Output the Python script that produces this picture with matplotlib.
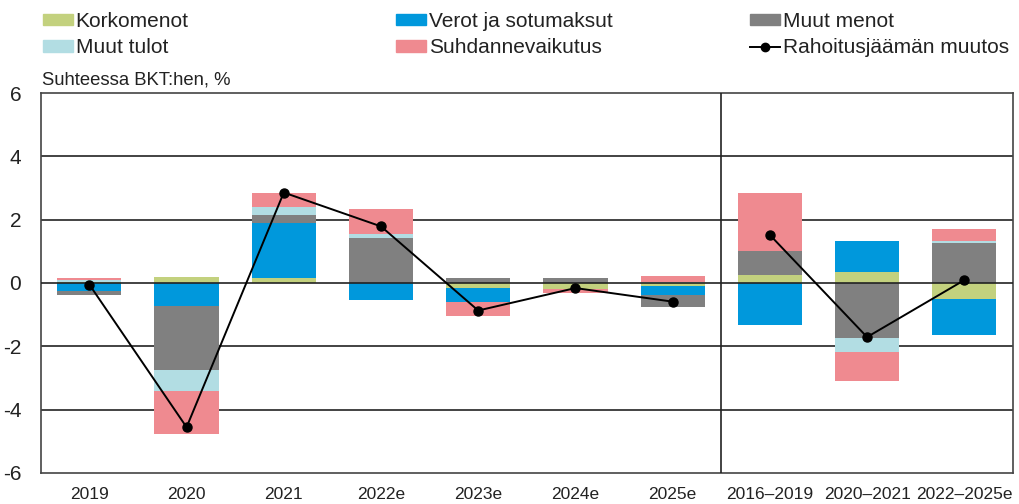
import numpy as np
import matplotlib
matplotlib.use("Agg")
import matplotlib.pyplot as plt
from matplotlib.patches import Patch
from matplotlib.lines import Line2D

plt.rcParams["font.family"] = ["Liberation Sans", "DejaVu Sans"]

categories = ["2019", "2020", "2021", "2022e", "2023e", "2024e", "2025e",
              "2016–2019", "2020–2021", "2022–2025e"]
korkomenot = [0.04, 0.18, 0.16, 0.0, -0.17, -0.19, -0.10, 0.25, 0.36, -0.51]
verot = [-0.24, -0.72, 1.73, -0.53, -0.42, 0.0, -0.27, -1.33, 0.98, -1.13]
muut_menot = [-0.14, -2.02, 0.27, 1.41, 0.17, 0.16, -0.40, 0.77, -1.75, 1.26]
muut_tulot = [0.05, -0.66, 0.23, 0.14, 0.0, 0.0, 0.02, 0.0, -0.42, 0.07]
suhdanne = [0.08, -1.38, 0.47, 0.79, -0.44, -0.14, 0.20, 1.82, -0.92, 0.37]
rahoitus = [-0.05, -4.56, 2.86, 1.79, -0.87, -0.16, -0.59, 1.52, -1.71, 0.09]

colors = {
    "Korkomenot": "#c3d17e",
    "Verot ja sotumaksut": "#0098dc",
    "Muut menot": "#808080",
    "Muut tulot": "#b2dde3",
    "Suhdannevaikutus": "#ef8a90",
}
series = [
    ("Korkomenot", korkomenot),
    ("Verot ja sotumaksut", verot),
    ("Muut menot", muut_menot),
    ("Muut tulot", muut_tulot),
    ("Suhdannevaikutus", suhdanne),
]

fig = plt.figure(figsize=(10.19, 5.04), dpi=100)
ax = fig.add_axes([0.040, 0.062, 0.954, 0.753])

x = np.arange(len(categories))
pos_bottom = np.zeros(len(categories))
neg_bottom = np.zeros(len(categories))
for name, vals in series:
    vals = np.array(vals)
    bottom = np.where(vals >= 0, pos_bottom, neg_bottom)
    ax.bar(x, vals, width=0.66, bottom=bottom, color=colors[name], zorder=2)
    pos_bottom += np.clip(vals, 0, None)
    neg_bottom += np.clip(vals, None, 0)

# line in two parts: yearly and period averages
ax.plot(x[:7], rahoitus[:7], color="black", lw=1.4, marker="o", ms=6.5, zorder=4)
ax.plot(x[7:], rahoitus[7:], color="black", lw=1.4, marker="o", ms=6.5, zorder=4)

for y in [-4, -2, 2, 4]:
    ax.axhline(y, color="#222222", lw=1.2, zorder=1)
ax.axhline(0, color="#222222", lw=1.2, zorder=3)
ax.axvline(6.5, color="#222222", lw=1.2, zorder=3)

ax.set_xlim(-0.5, len(categories) - 0.5)
ax.set_ylim(-6, 6)
ax.set_yticks([-6, -4, -2, 0, 2, 4, 6])
ax.set_yticklabels(["-6", "-4", "-2", "0", "2", "4", "6"])
ax.set_xticks(x)
ax.set_xticklabels(categories)
ax.tick_params(axis="y", length=0, pad=14, labelsize=15, colors="#222222")
ax.tick_params(axis="x", length=0, pad=10, labelsize=12.5, colors="#222222")
for sp in ax.spines.values():
    sp.set_color("#444444")
    sp.set_linewidth(1.2)

fig.text(0.041, 0.842, "Suhteessa BKT:hen, %", fontsize=13.3, color="#222222",
         va="center", ha="left")

# legend: three columns placed by hand
legend_cols = [
    [Patch(color=colors["Korkomenot"], label="Korkomenot"),
     Patch(color=colors["Muut tulot"], label="Muut tulot")],
    [Patch(color=colors["Verot ja sotumaksut"], label="Verot ja sotumaksut"),
     Patch(color=colors["Suhdannevaikutus"], label="Suhdannevaikutus")],
    [Patch(color=colors["Muut menot"], label="Muut menot"),
     Line2D([0], [0], color="black", lw=1.4, marker="o", ms=6,
            label="Rahoitusjäämän muutos")],
]
for col_x, hnds in zip([0.0419, 0.3886, 0.736], legend_cols):
    fig.legend(handles=hnds, loc="upper left", bbox_to_anchor=(col_x, 0.9764),
               frameon=False, fontsize=15, handlelength=1.45, handleheight=0.48,
               handletextpad=0.13, labelspacing=0.35, borderaxespad=0,
               borderpad=0, labelcolor="#222222")

fig.savefig("out.png", dpi=100)
